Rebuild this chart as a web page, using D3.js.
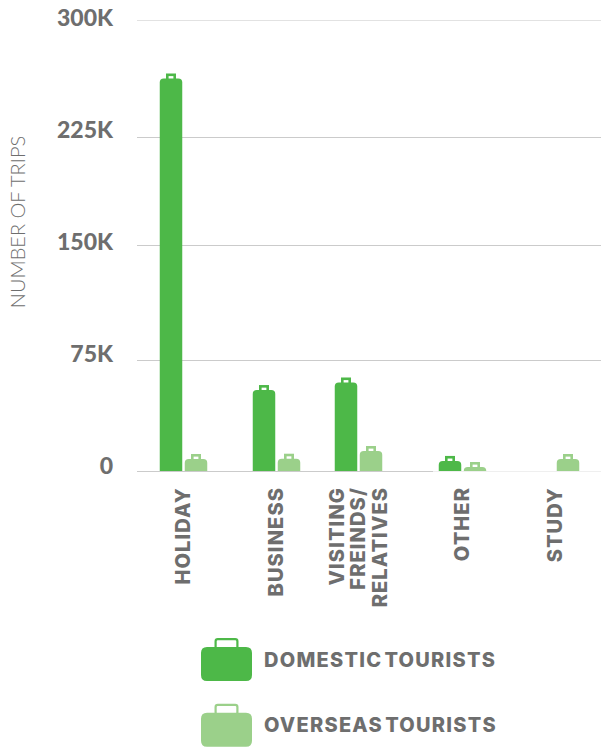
<!DOCTYPE html>
<html><head><meta charset="utf-8">
<script src="https://cdn.jsdelivr.net/npm/d3@7"></script>
<style>html,body{margin:0;padding:0;background:#fff}svg{display:block}text{font-family:Lato,sans-serif}</style>
</head><body><svg id="c" width="601" height="747"></svg>
<script>
const categories = ["HOLIDAY","BUSINESS","VISITING FREINDS/ RELATIVES","OTHER","STUDY"];
const categoryLines = [["HOLIDAY"],["BUSINESS"],["VISITING","FREINDS/","RELATIVES"],["OTHER"],["STUDY"]];
const domestic = [262500,54700,59800,6800,null];
const overseas = [8100,8300,13500,2700,8100];
const yTicks = [0,75000,150000,225000,300000];
const yTickLabels = ["0","75K","150K","225K","300K"];
const seriesNames = ["DOMESTIC TOURISTS","OVERSEAS TOURISTS"];
const axisTitle = "NUMBER OF TRIPS";

const GREEN="#4db848", LIGHT="#9bd08a", TXT="#6e6e6e";
const svg=d3.select("#c");
const y=d3.scaleLinear().domain(yTicks).range([471,360,245,137,20]);
const yLabel=d3.scaleLinear().domain([0,300000]).range([474,26]);
const x=d3.scaleBand().domain(categories).range([137,602]);
const nudge=c=>c===categories[2]?-11:0;
const barW=22.5, gap=2.5;
const cx=c=>x(c)+x.bandwidth()/2+nudge(c);

svg.append("g").selectAll("line").data(yTicks).join("line")
  .attr("x1",137).attr("x2",d=>d===0?433:601).attr("y1",d=>y(d)+.5).attr("y2",d=>y(d)+.5)
  .attr("stroke",d=>d===300000?"#e2e2e2":"#cbcbcb").attr("stroke-width",1);
svg.append("line").attr("x1",433).attr("x2",601).attr("y1",y(0)+.5).attr("y2",y(0)+.5)
  .attr("stroke","#efefef");

svg.append("g").selectAll("text").data(yTicks).join("text")
  .attr("x",113).attr("y",d=>yLabel(d)).attr("text-anchor","end").attr("font-size",23).attr("font-weight",900)
  .attr("fill",TXT).text((d,i)=>yTickLabels[i]);

svg.append("text").attr("transform","translate(25,222) rotate(-90)").attr("text-anchor","middle")
  .attr("font-size",20).attr("fill",TXT).attr("font-weight",300).text(axisTitle);

function bag(g,bx,w,top,bottom,color,r,hw,hh,sw){
  const hx=bx+w/2-hw/2;
  g.append("rect").attr("x",hx+sw/2).attr("y",top-hh+sw/2).attr("width",hw-sw).attr("height",hh+1)
    .attr("fill","none").attr("stroke",color).attr("stroke-width",sw).attr("rx",r>4?sw:0);
  const rr=Math.min(r,(bottom-top));
  g.append("path").attr("fill",color).attr("d",
    `M${bx},${bottom}V${top+rr}Q${bx},${top} ${bx+rr},${top}H${bx+w-rr}Q${bx+w},${top} ${bx+w},${top+rr}V${bottom-(r>4?r:0)}`+
    (r>4?`Q${bx+w},${bottom} ${bx+w-r},${bottom}H${bx+r}Q${bx},${bottom} ${bx},${bottom-r}Z`:`H${bx}Z`));
}
const bars=svg.append("g");
categories.forEach((c,i)=>{
  if(domestic[i]!=null) bag(bars,cx(c)-gap/2-barW,barW,y(domestic[i]),y(0),GREEN,4,10,5,2.6);
  if(overseas[i]!=null) bag(bars,cx(c)+gap/2,barW,y(overseas[i]),y(0),LIGHT,4,10,5,2.6);
});

categories.forEach((c,i)=>{
  const t=svg.append("text").attr("transform",`translate(${cx(c)-.5},487) rotate(-90)`)
    .attr("text-anchor","end").attr("font-size",20).attr("font-weight",800)
    .attr("letter-spacing",1.1).attr("fill",TXT).style("font-family","Inter,sans-serif");
  const L=categoryLines[i], lh=21.5;
  L.forEach((s,j)=>t.append("tspan").attr("x",0).attr("y",(j-(L.length-1)/2)*lh+7.3).text(s));
});

seriesNames.forEach((s,i)=>{
  const g=svg.append("g").attr("transform",`translate(0,${i*65.7})`);
  bag(g,201,51,647,681,i?LIGHT:GREEN,6,24,9,2.2);
  g.append("text").attr("x",264).attr("y",666.7).attr("font-size",20).attr("font-weight",800)
   .attr("letter-spacing",1.25).attr("word-spacing",-3.5).attr("fill",TXT)
   .style("font-family","Inter,sans-serif").text(s);
});
</script></body></html>
